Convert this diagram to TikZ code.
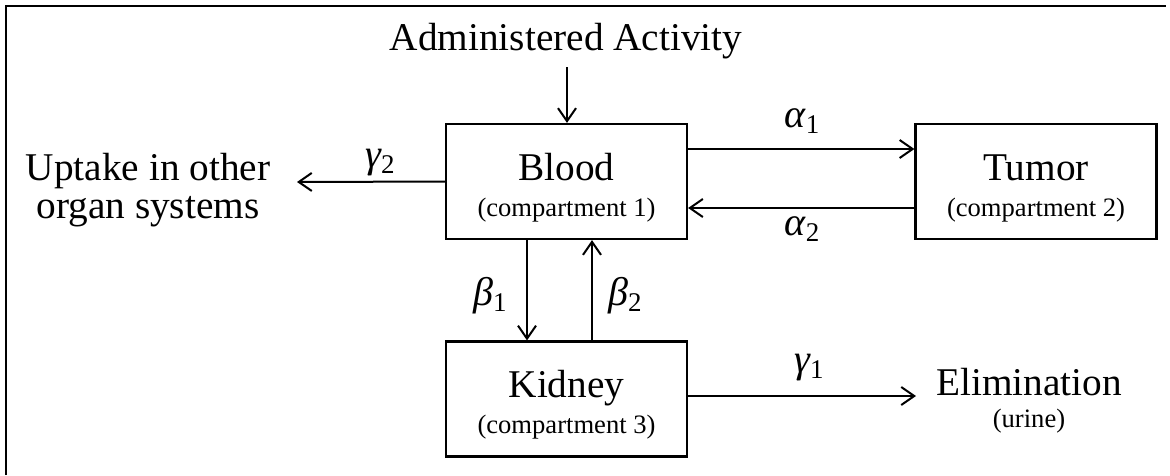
\documentclass[tikz,border=0pt]{standalone}
\usepackage{fontspec}
\setmainfont{Liberation Serif}
\usetikzlibrary{arrows.meta}
\newcommand\gsub[2]{{\itshape #1}\raisebox{-6pt}{\fontsize{27}{27}\selectfont #2}}
\begin{document}
\begin{tikzpicture}[x=1pt,y=-1pt,
  box/.style={draw,line width=2.2pt,minimum width=241pt,minimum height=115pt,inner sep=0pt},
  big/.style={font=\fontsize{39.3}{38.5}\selectfont,inner sep=0pt,anchor=base},
  small/.style={font=\fontsize{26.6}{30}\selectfont,inner sep=0pt,anchor=base},
  greek/.style={font=\fontsize{40}{40}\selectfont,inner sep=0pt,anchor=base},
  flow/.style={line width=2pt,-{Straight Barb[length=13pt,width=18pt,line width=2pt]}}]
\useasboundingbox (0,0) rectangle (1170,475);
\draw[line width=2pt] (6,475) -- (6,6) -- (1166,6);
% boxes
\node[box] (blood) at (566.5,181.5) {};
\node[box] (tumor) at (1036,181.5) {};
\node[box] (kidney) at (566.5,399) {};
% box texts
\node[big] (bloodt) at (566.5,180) {Blood};
\node[small] (bloodc) at (566.5,216) {(compartment 1)};
\node[big] (tumort) at (1036,180) {Tumor};
\node[small] (tumorc) at (1036,216) {(compartment 2)};
\node[big] (kidneyt) at (566.5,397) {Kidney};
\node[small] (kidneyc) at (566.5,433) {(compartment 3)};
% free texts
\node[big] (admin) at (566,50) {Administered Activity};
\node[big] (uptake1) at (148,180) {Uptake in other};
\node[big] (uptake2) at (148,218) {organ systems};
\node[big] (elim) at (1029,395) {Elimination};
\node[small] (urine) at (1029,427) {(urine)};
% connectors
\coordinate (admbot) at (567,67);
\draw[flow] (admbot) -- (blood.north -| admbot);
\coordinate (upt) at (297,182);
\draw[flow] (blood.west) -- (upt);
\draw[flow] ([yshift=32.5pt]blood.east) -- ([yshift=32.5pt]tumor.west);
\draw[flow] ([yshift=-26.5pt]tumor.west) -- ([yshift=-26.5pt]blood.east);
\draw[flow] ([xshift=-39.5pt]blood.south) -- ([xshift=-39.5pt]kidney.north);
\draw[flow] ([xshift=25.5pt]kidney.north) -- ([xshift=25.5pt]blood.south);
\coordinate (elimin) at (916,396);
\draw[flow] (kidney.east |- elimin) -- (elimin);
% labels
\node[greek] (a1) at (802,127) {\gsub{α}{1}};
\node[greek] (a2) at (802,235) {\gsub{α}{2}};
\node[greek] (g2) at (380,167) {\gsub{γ}{2}};
\node[greek] (b1) at (490,305) {\gsub{β}{1}};
\node[greek] (b2) at (625,305) {\gsub{β}{2}};
\node[greek] (g1) at (809,372) {\gsub{γ}{1}};
\end{tikzpicture}
\end{document}
